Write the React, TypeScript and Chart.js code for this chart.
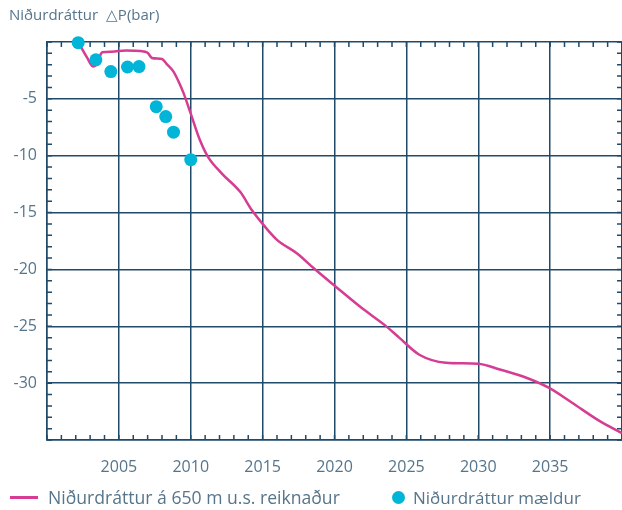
import React, { useEffect, useRef } from 'react';
import { Chart, registerables } from 'chart.js';

Chart.register(...registerables);

// ---- data ----
const calcYears = [
  2002.3, 2002.8, 2003.2, 2003.5, 2003.75, 2003.85, 2004.5, 2005.5, 2006.5, 2007.0,
  2007.3, 2008.0, 2008.3, 2008.8, 2009.2, 2009.5, 2010.0, 2010.63, 2011.2, 2012.15,
  2013.45, 2014.26, 2015.07, 2016.0, 2017.4, 2018.56, 2020.07, 2021.9, 2023.5, 2024.5,
  2025.9, 2027.75, 2030.0, 2031.5, 2033.3, 2034.9, 2036.5, 2038.4, 2040.0,
];
const calcValues = [
  -0.3, -1.4, -2.15, -1.9, -1.05, -0.9, -0.85, -0.75, -0.8, -0.95,
  -1.4, -1.5, -1.9, -2.6, -3.6, -4.5, -6.3, -8.6, -10.1, -11.55,
  -13.2, -14.8, -16.1, -17.4, -18.6, -19.9, -21.5, -23.4, -24.9, -26.0,
  -27.5, -28.2, -28.3, -28.8, -29.5, -30.4, -31.7, -33.3, -34.4,
];
const measuredYears = [2002.17, 2003.4, 2004.44, 2005.6, 2006.4, 2007.6, 2008.26, 2008.8, 2010.0];
const measuredValues = [-0.06, -1.57, -2.6, -2.2, -2.16, -5.69, -6.56, -7.93, -10.35];

const xTickLabels = [2005, 2010, 2015, 2020, 2025, 2030, 2035];
const yTickLabels = [-5, -10, -15, -20, -25, -30];

const titleText = 'Niðurdráttur  △P(bar)';
const calcLabel = 'Niðurdráttur á 650 m u.s. reiknaður';
const measuredLabel = 'Niðurdráttur mældur';

// ---- styles ----
const GRID = '#1f4a6a';
const TEXT = '#56758b';
const LINE = '#d63c91';
const DOT = '#00b5d8';
const FONT = '"Open Sans", sans-serif';

const minorTicks = {
  id: 'minorTicks',
  beforeDatasetsDraw(chart: any) {
    const { ctx, chartArea, scales } = chart;
    const xs = scales.x;
    const ys = scales.y;
    ctx.save();
    ctx.strokeStyle = GRID;
    ctx.lineWidth = 1.5;
    ctx.beginPath();
    for (let yr = 2000; yr <= 2040; yr++) {
      const px = xs.getPixelForValue(yr);
      ctx.moveTo(px, chartArea.top);
      ctx.lineTo(px, chartArea.top + 5);
      ctx.moveTo(px, chartArea.bottom);
      ctx.lineTo(px, chartArea.bottom - 5);
    }
    for (let v = 0; v >= -35; v--) {
      const py = ys.getPixelForValue(v);
      ctx.moveTo(chartArea.left, py);
      ctx.lineTo(chartArea.left + 5, py);
      ctx.moveTo(chartArea.right, py);
      ctx.lineTo(chartArea.right - 5, py);
    }
    ctx.stroke();
    ctx.restore();
  },
};

export default function App() {
  const canvasRef = useRef<HTMLCanvasElement | null>(null);

  useEffect(() => {
    if (!canvasRef.current) return;
    const chart = new Chart(canvasRef.current, {
      type: 'scatter',
      data: {
        datasets: [
          {
            label: calcLabel,
            data: calcYears.map((x, i) => ({ x, y: calcValues[i] })),
            showLine: true,
            borderColor: LINE,
            backgroundColor: LINE,
            borderWidth: 2.5,
            pointRadius: 0,
            cubicInterpolationMode: 'monotone',
            clip: false,
            order: 2,
          } as any,
          {
            label: measuredLabel,
            data: measuredYears.map((x, i) => ({ x, y: measuredValues[i] })),
            showLine: false,
            pointRadius: 6.5,
            pointBackgroundColor: DOT,
            pointBorderWidth: 0,
            backgroundColor: DOT,
            borderColor: DOT,
            clip: false,
            order: 1,
          } as any,
        ],
      },
      options: {
        animation: false,
        responsive: true,
        maintainAspectRatio: false,
        events: [],
        layout: { autoPadding: false, padding: { top: 42, left: 0, right: 0, bottom: 0 } },
        plugins: {
          legend: { display: false },
          tooltip: { enabled: false },
          title: { display: false },
        },
        scales: {
          x: {
            type: 'linear',
            min: 2000,
            max: 2040,
            afterFit: (s: any) => { s.height = 70; s.paddingLeft = 0; s.paddingRight = 0; },
            afterBuildTicks: (s: any) => {
              const t = [];
              for (let v = 2000; v <= 2040; v += 5) t.push({ value: v });
              s.ticks = t;
            },
            ticks: {
              autoSkip: false,
              maxRotation: 0,
              padding: 18,
              color: TEXT,
              font: { family: FONT, size: 16 },
              callback: (v: any) => (xTickLabels.includes(Number(v)) ? String(v) : ''),
            },
            grid: { color: GRID, lineWidth: 1.5, drawTicks: false },
            border: { color: GRID, width: 1.5 },
          },
          y: {
            type: 'linear',
            min: -35,
            max: 0,
            afterFit: (s: any) => { s.width = 47; s.paddingTop = 0; s.paddingBottom = 0; },
            afterBuildTicks: (s: any) => {
              const t = [];
              for (let v = -35; v <= 0; v += 5) t.push({ value: v });
              s.ticks = t;
            },
            ticks: {
              autoSkip: false,
              padding: 10,
              color: TEXT,
              font: { family: FONT, size: 16 },
              callback: (v: any) => (yTickLabels.includes(Number(v)) ? String(v) : ''),
            },
            grid: { color: GRID, lineWidth: 1.5, drawTicks: false },
            border: { color: GRID, width: 1.5 },
          },
        },
      },
      plugins: [minorTicks],
    });
    return () => chart.destroy();
  }, []);

  return (
    <div style={{ position: 'fixed', left: 0, top: 0, width: 622, height: 510, background: '#fff', fontFamily: FONT }}>
      <div style={{ position: 'absolute', left: 0, top: 0, width: 622, height: 510 }}>
        <canvas ref={canvasRef} />
      </div>
      <div style={{ position: 'absolute', left: 9, top: 4, fontSize: 15, color: TEXT, whiteSpace: 'pre' }}>
        {titleText}
      </div>
      <div style={{ position: 'absolute', left: 10, top: 485, height: 24, display: 'flex', alignItems: 'center', fontSize: 17.6, color: TEXT }}>
        <span style={{ display: 'inline-block', width: 28, height: 3, background: LINE, marginRight: 10 }} />
        <span>{calcLabel}</span>
      </div>
      <div style={{ position: 'absolute', left: 392, top: 485, height: 24, display: 'flex', alignItems: 'center', fontSize: 17, color: TEXT }}>
        <span style={{ display: 'inline-block', width: 13, height: 13, borderRadius: '50%', background: DOT, marginRight: 8 }} />
        <span>{measuredLabel}</span>
      </div>
    </div>
  );
}
